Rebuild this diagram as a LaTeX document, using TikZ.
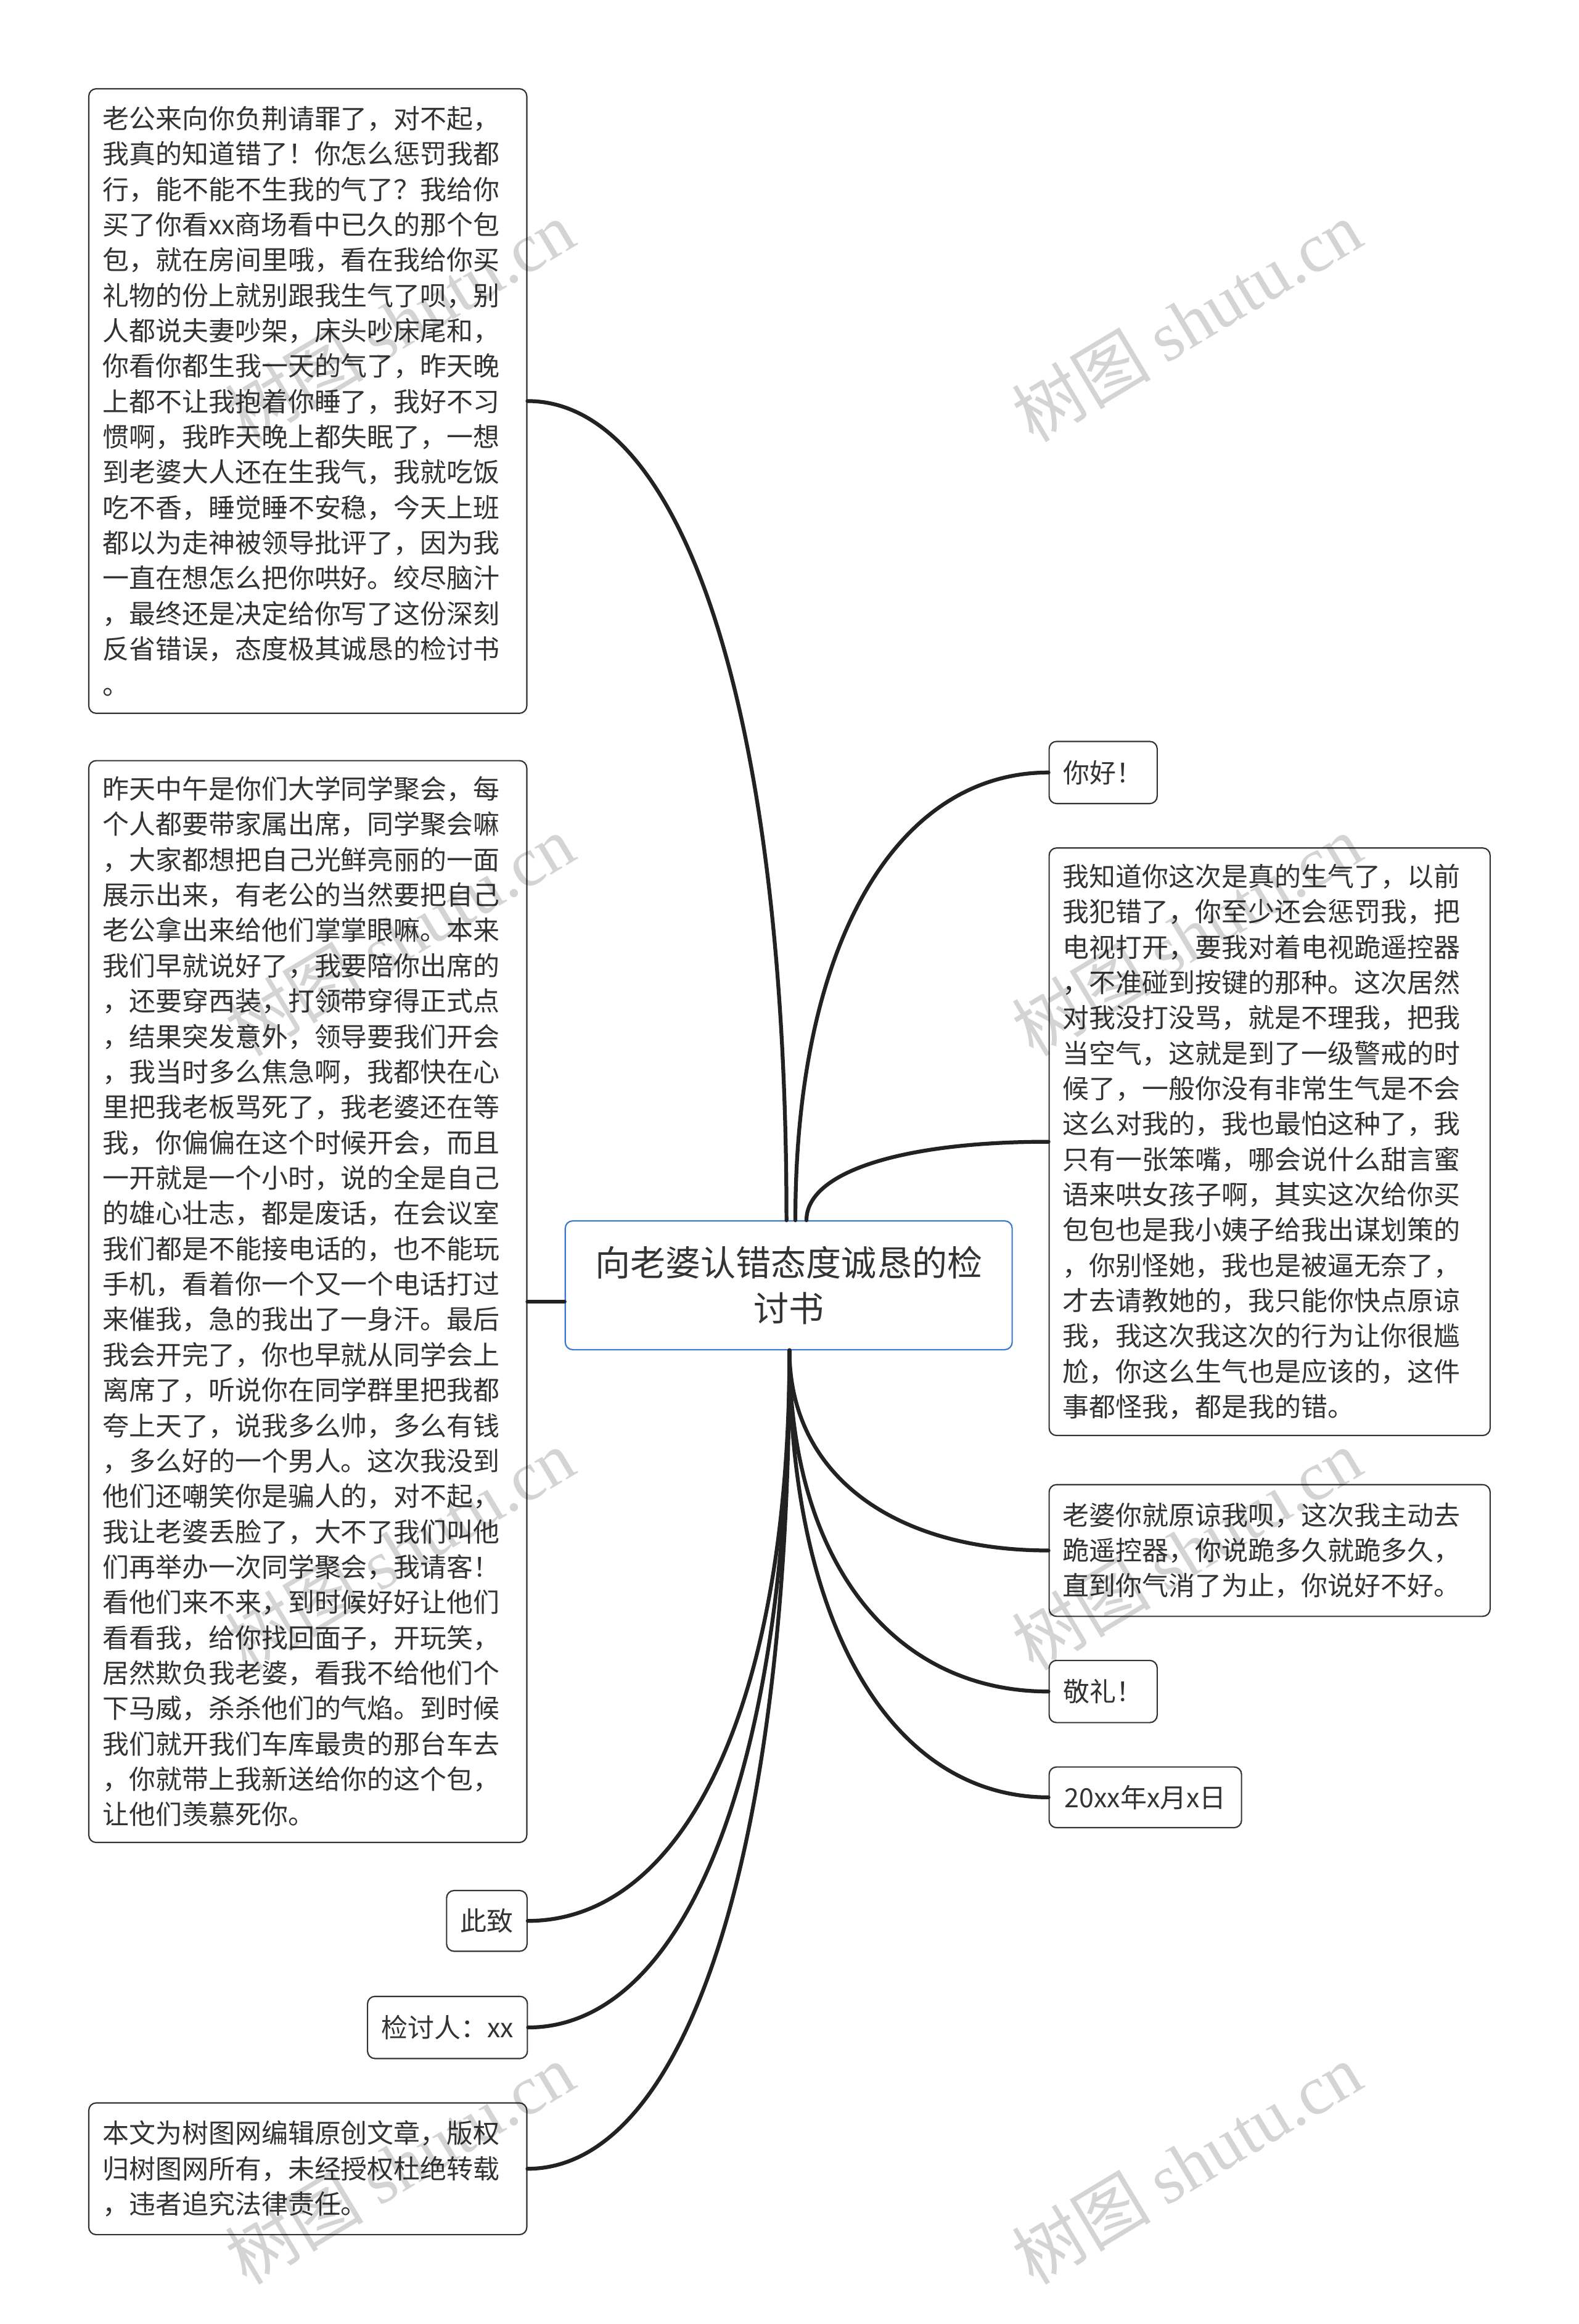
\documentclass[tikz,border=0pt]{standalone}
\usepackage{fontspec}
\setmainfont{Noto Sans CJK SC}
\newfontfamily\wmcjk{Noto Sans CJK SC}
\newfontfamily\wmlat{Liberation Serif}
\usetikzlibrary{calc}
\definecolor{txt}{HTML}{333333}
\definecolor{edge}{HTML}{222222}
\definecolor{bord}{HTML}{333333}
\definecolor{cblue}{HTML}{3A78CC}
\newcommand\mmconn[2]{\draw[conn] (#1) .. controls ($(#1)!0.62!(#1|-#2)$) and ($(#1|-#2)!0.4!(#2)$) .. (#2);}
\begin{document}
\begin{tikzpicture}[x=1pt,y=-1pt,
  box/.style={draw=bord, line width=0.9pt, rounded corners=5pt, fill=white, text=txt,
    align=left, inner xsep=9.3pt, inner ysep=0pt,
    font=\fontsize{17.9pt}{23.9pt}\selectfont, anchor=center},
  conn/.style={draw=edge, line width=2.6pt, line cap=round},
  wm/.style={text=black, text opacity=0.17, rotate=31, inner sep=0pt,
    font=\fontsize{47pt}{50pt}\selectfont}]
\useasboundingbox[fill=white] (0,0) rectangle (1066.67,1570.4);

% central node
\node[draw=cblue, line width=0.9pt, rounded corners=5pt, fill=white, text=txt,
  align=center, inner sep=0pt, minimum width=302pt, minimum height=87pt, text width=290pt,
  font=\fontsize{23.8pt}{31pt}\selectfont] (c) at (533,868.5)
  {向老婆认错态度诚恳的检\\讨书};

% anchor coordinates on the central node
\coordinate (tl) at ($(c.north)+(-1.5,0)$);
\coordinate (tr) at ($(c.north)+(4.5,0)$);
\coordinate (tr2) at ($(c.north)+(12,0)$);
\coordinate (bt) at ($(c.south)+(0.5,0)$);

% nodes
\node[box, minimum width=296pt, minimum height=422pt, text width=277.4pt] (b1) at (208,271) {老公来向你负荆请罪了，对不起，\\
我真的知道错了！你怎么惩罚我都\\
行，能不能不生我的气了？我给你\\
买了你看xx商场看中已久的那个包\\
包，就在房间里哦，看在我给你买\\
礼物的份上就别跟我生气了呗，别\\
人都说夫妻吵架，床头吵床尾和，\\
你看你都生我一天的气了，昨天晚\\
上都不让我抱着你睡了，我好不习\\
惯啊，我昨天晚上都失眠了，一想\\
到老婆大人还在生我气，我就吃饭\\
吃不香，睡觉睡不安稳，今天上班\\
都以为走神被领导批评了，因为我\\
一直在想怎么把你哄好。绞尽脑汁\\
，最终还是决定给你写了这份深刻\\
反省错误，态度极其诚恳的检讨书\\
。};

\node[box, minimum width=296pt, minimum height=731pt, text width=277.4pt] (b2) at (208,879.5) {昨天中午是你们大学同学聚会，每\\
个人都要带家属出席，同学聚会嘛\\
，大家都想把自己光鲜亮丽的一面\\
展示出来，有老公的当然要把自己\\
老公拿出来给他们掌掌眼嘛。本来\\
我们早就说好了，我要陪你出席的\\
，还要穿西装，打领带穿得正式点\\
，结果突发意外，领导要我们开会\\
，我当时多么焦急啊，我都快在心\\
里把我老板骂死了，我老婆还在等\\
我，你偏偏在这个时候开会，而且\\
一开就是一个小时，说的全是自己\\
的雄心壮志，都是废话，在会议室\\
我们都是不能接电话的，也不能玩\\
手机，看着你一个又一个电话打过\\
来催我，急的我出了一身汗。最后\\
我会开完了，你也早就从同学会上\\
离席了，听说你在同学群里把我都\\
夸上天了，说我多么帅，多么有钱\\
，多么好的一个男人。这次我没到\\
他们还嘲笑你是骗人的，对不起，\\
我让老婆丢脸了，大不了我们叫他\\
们再举办一次同学聚会，我请客！\\
看他们来不来，到时候好好让他们\\
看看我，给你找回面子，开玩笑，\\
居然欺负我老婆，看我不给他们个\\
下马威，杀杀他们的气焰。到时候\\
我们就开我们车库最贵的那台车去\\
，你就带上我新送给你的这个包，\\
让他们羡慕死你。};

\node[box, minimum width=54pt, minimum height=41pt] (cz) at (329,1298) {此致};
\node[box, minimum width=107pt, minimum height=42pt] (jt) at (302.4,1370) {检讨人：xx};
\node[box, minimum width=296pt, minimum height=89pt, text width=277.4pt] (bw) at (208,1465.5) {本文为树图网编辑原创文章，版权\\
归树图网所有，未经授权杜绝转载\\
，违者追究法律责任。};

\node[box, minimum width=73pt, minimum height=42pt] (hello) at (745.5,522) {你好！};
\node[box, minimum width=298pt, minimum height=397pt, text width=279.4pt] (big) at (858,771.5) {我知道你这次是真的生气了，以前\\
我犯错了，你至少还会惩罚我，把\\
电视打开，要我对着电视跪遥控器\\
，不准碰到按键的那种。这次居然\\
对我没打没骂，就是不理我，把我\\
当空气，这就是到了一级警戒的时\\
候了，一般你没有非常生气是不会\\
这么对我的，我也最怕这种了，我\\
只有一张笨嘴，哪会说什么甜言蜜\\
语来哄女孩子啊，其实这次给你买\\
包包也是我小姨子给我出谋划策的\\
，你别怪她，我也是被逼无奈了，\\
才去请教她的，我只能你快点原谅\\
我，我这次我这次的行为让你很尴\\
尬，你这么生气也是应该的，这件\\
事都怪我，都是我的错。};
\node[box, minimum width=298pt, minimum height=89pt, text width=279.4pt] (lp) at (858,1047.7) {老婆你就原谅我呗，这次我主动去\\
跪遥控器，你说跪多久就跪多久，\\
直到你气消了为止，你说好不好。};
\node[box, minimum width=73pt, minimum height=42pt] (jl) at (745.5,1143) {敬礼！};
\node[box, minimum width=130pt, minimum height=41pt] (dt) at (774,1214.5) {20xx年x月x日};

% connectors
\mmconn{tl}{b1.east}
\mmconn{tr}{hello.west}
\mmconn{tr2}{big.west}
\draw[conn] (c.west|-b2.east) -- (b2.east);
\mmconn{bt}{lp.west}
\mmconn{bt}{jl.west}
\mmconn{bt}{dt.west}
\mmconn{bt}{cz.east}
\mmconn{bt}{jt.east}
\mmconn{bt}{bw.east}

% watermarks
\foreach \wx in {270,802}{
  \foreach \wy in {217,632,1047,1462}{
    \node[wm] at (\wx,\wy) {{\wmcjk 树图} {\wmlat shutu.cn}};
  }
}
\end{tikzpicture}
\end{document}
